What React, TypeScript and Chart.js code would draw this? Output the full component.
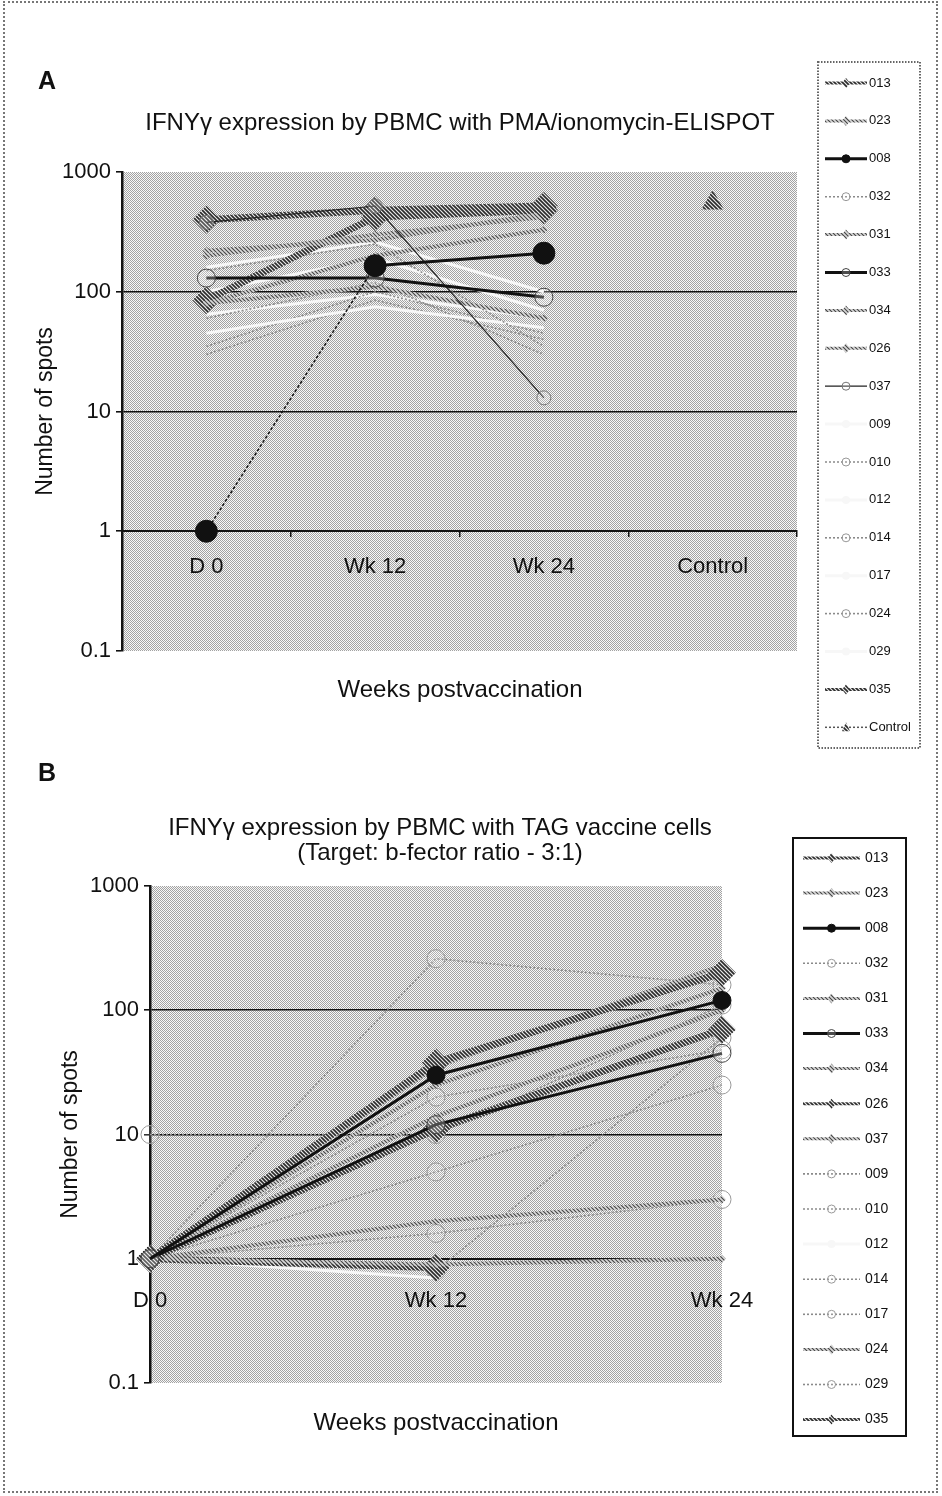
import { useEffect, useRef } from 'react';
import { Chart, registerables } from 'chart.js';
Chart.register(...registerables);

const FONT = '"Liberation Sans", Arial, Helvetica, sans-serif';

// ---------- data ----------
const A_CATEGORIES = ['D 0', 'Wk 12', 'Wk 24', 'Control'];
const B_CATEGORIES = ['D 0', 'Wk 12', 'Wk 24'];
const Y_TICKS = [0.1, 1, 10, 100, 1000];
const SERIES_NAMES = ['013', '023', '008', '032', '031', '033', '034', '026', '037', '009', '010', '012', '014', '017', '024', '029', '035'];

// Panel A (PMA/ionomycin) values: D 0, Wk 12, Wk 24, Control
const A_013 = [400, 480, 520, null];
const A_023 = [200, 300, 420, null];
const A_008 = [1, 165, 210, null];
const A_032 = [150, 250, 35, null];
const A_031 = [80, 200, 330, null];
const A_033 = [130, 130, 90, null];
const A_034 = [80, 110, 60, null];
const A_026 = [220, 270, 450, null];
const A_037 = [380, 520, 13, null];
const A_009 = [45, 75, 50, null];
const A_010 = [30, 85, 40, null];
const A_012 = [160, 260, 100, null];
const A_014 = [60, 120, 30, null];
const A_017 = [100, 190, 70, null];
const A_024 = [35, 100, 45, null];
const A_029 = [65, 95, 60, null];
const A_035 = [85, 420, 480, null];
const A_CONTROL = [null, null, null, 550];

// Panel B (TAG vaccine cells) values: D 0, Wk 12, Wk 24
const B_013 = [1, 38, 200];
const B_023 = [1, 25, 150];
const B_008 = [1, 30, 120];
const B_032 = [1, 20, 48];
const B_031 = [1, 14, 100];
const B_033 = [1, 12, 45];
const B_034 = [1, 35, 230];
const B_026 = [1, 11, 70];
const B_037 = [1, 2, 3];
const B_009 = [1, 260, 160];
const B_010 = [10, 10, 110];
const B_012 = [1, 0.7, null];
const B_014 = [1, 0.8, 60];
const B_017 = [1, 1.6, 3];
const B_024 = [1, 0.9, 1];
const B_029 = [1, 5, 25];
const B_035 = [1, 0.85, null];

const A_VALUES = [A_013, A_023, A_008, A_032, A_031, A_033, A_034, A_026, A_037, A_009, A_010, A_012, A_014, A_017, A_024, A_029, A_035];
const B_VALUES = [B_013, B_023, B_008, B_032, B_031, B_033, B_034, B_026, B_037, B_009, B_010, B_012, B_014, B_017, B_024, B_029, B_035];

// ---------- styles ----------
const A_KINDS = ['H1', 'H2', 'BLK', 'LDOT', 'H2', 'BLK2', 'H2', 'H2', 'THIN', 'WHT', 'LDOT', 'WHT', 'LDOT', 'WHT', 'LDOT', 'WHT', 'H1'];
const B_KINDS = ['H1', 'H2', 'BLK', 'LDOT', 'H2', 'BLK2', 'H2', 'H1', 'H2', 'LDOT', 'LDOT', 'WHT', 'LDOT', 'LDOT', 'H2', 'LDOT', 'H1'];

function makeStipple() {
  const c = document.createElement('canvas');
  c.width = 2; c.height = 2;
  const g = c.getContext('2d')!;
  g.fillStyle = '#f8f8f8'; g.fillRect(0, 0, 2, 2);
  g.fillStyle = '#a2a2a2'; g.fillRect(0, 0, 1, 1); g.fillRect(1, 1, 1, 1);
  return g.createPattern(c, 'repeat')!;
}

function makeHatch(dark: string, bg: string, size: number, lw: number) {
  const c = document.createElement('canvas');
  c.width = size; c.height = size;
  const g = c.getContext('2d')!;
  g.fillStyle = bg; g.fillRect(0, 0, size, size);
  g.strokeStyle = dark; g.lineWidth = lw;
  g.beginPath();
  g.moveTo(-1, -1); g.lineTo(size + 1, size + 1);
  g.moveTo(-size - 1, -1); g.lineTo(1, size + 1);
  g.moveTo(size - 1, -1); g.lineTo(2 * size + 1, size + 1);
  g.stroke();
  return g.createPattern(c, 'repeat')!;
}

function styleFor(kind: string, pats: any, panel: string) {
  const isA = panel === 'A';
  switch (kind) {
    case 'H1':
      return { borderColor: pats.hatchDark, borderWidth: 7, pointStyle: 'rectRot', pointRadius: 14, pointBackgroundColor: pats.hatchDark, pointBorderColor: 'rgba(0,0,0,0)', pointBorderWidth: 0, order: 1 };
    case 'H2':
      return { borderColor: pats.hatchMid, borderWidth: 4, pointStyle: 'rectRot', pointRadius: 4, pointBackgroundColor: pats.hatchMid, pointBorderColor: 'rgba(0,0,0,0)', pointBorderWidth: 0, order: 1 };
    case 'BLK':
      return {
        borderColor: '#111', borderWidth: 3, pointStyle: 'circle',
        pointRadius: isA ? 11 : (c: any) => (c.dataIndex === 0 ? 0 : 9),
        pointBackgroundColor: '#111', pointBorderColor: '#111', pointBorderWidth: 1, order: 0,
      };
    case 'BLK2':
      return { borderColor: '#111', borderWidth: 3, pointStyle: 'circle', pointRadius: 9, pointBackgroundColor: 'rgba(255,255,255,0.25)', pointBorderColor: '#444', pointBorderWidth: 1, order: 0 };
    case 'THIN':
      return { borderColor: '#222', borderWidth: 1.2, pointStyle: 'circle', pointRadius: 7, pointBackgroundColor: 'rgba(255,255,255,0.2)', pointBorderColor: '#777', pointBorderWidth: 1, order: 0 };
    case 'WHT':
      return { borderColor: '#f7f7f7', borderWidth: 3, pointStyle: 'circle', pointRadius: 0, pointBackgroundColor: '#f7f7f7', pointBorderColor: '#f7f7f7', pointBorderWidth: 0, order: 2 };
    default: // LDOT
      return { borderColor: '#8a8a8a', borderWidth: 1.6, borderDash: [2, 2], pointStyle: 'circle', pointRadius: isA ? 0 : 9, pointBackgroundColor: 'rgba(255,255,255,0.15)', pointBorderColor: '#999', pointBorderWidth: 1, order: 2 };
  }
}

// ---------- plugins ----------
const plotBackground = {
  id: 'plotBackground',
  beforeDraw(chart: any, _a: any, opts: any) {
    const { ctx, chartArea } = chart;
    ctx.save();
    ctx.fillStyle = opts.pattern;
    ctx.fillRect(chartArea.left, chartArea.top, chartArea.right - chartArea.left, chartArea.bottom - chartArea.top);
    ctx.restore();
  },
};

const texts = {
  id: 'texts',
  afterDraw(chart: any, _a: any, opts: any) {
    const ctx = chart.ctx;
    ctx.save();
    (opts.items || []).forEach((t: any) => {
      ctx.font = t.font;
      ctx.fillStyle = '#111';
      ctx.textAlign = t.align || 'center';
      ctx.textBaseline = 'middle';
      ctx.fillText(t.text, t.x, t.y);
    });
    ctx.restore();
  },
};

const boxLegend = {
  id: 'boxLegend',
  afterDraw(chart: any, _a: any, o: any) {
    const ctx = chart.ctx;
    ctx.save();
    ctx.fillStyle = '#fff';
    ctx.fillRect(o.x, o.y, o.w, o.h);
    ctx.lineWidth = o.borderWidth;
    ctx.strokeStyle = o.borderColor;
    ctx.setLineDash(o.borderDash || []);
    ctx.strokeRect(o.x, o.y, o.w, o.h);
    chart.data.datasets.forEach((ds: any, i: number) => {
      const y = o.firstY + i * o.step;
      ctx.setLineDash(ds.borderDash || []);
      ctx.strokeStyle = ds.borderColor;
      ctx.lineWidth = Math.min(ds.borderWidth, 3);
      ctx.beginPath();
      ctx.moveTo(o.sampleX, y);
      ctx.lineTo(o.sampleX + o.sampleW, y);
      ctx.stroke();
      ctx.setLineDash([]);
      const cx = o.sampleX + o.sampleW / 2;
      const r = 4;
      ctx.beginPath();
      if (ds.pointStyle === 'rectRot') {
        ctx.moveTo(cx, y - r - 1); ctx.lineTo(cx + r, y); ctx.lineTo(cx, y + r + 1); ctx.lineTo(cx - r, y); ctx.closePath();
      } else if (ds.pointStyle === 'triangle') {
        ctx.moveTo(cx, y - r - 1); ctx.lineTo(cx + r, y + r); ctx.lineTo(cx - r, y + r); ctx.closePath();
      } else {
        ctx.arc(cx, y, r, 0, Math.PI * 2);
      }
      ctx.fillStyle = ds.pointBackgroundColor;
      ctx.fill();
      if (ds.pointBorderWidth) { ctx.lineWidth = 1; ctx.strokeStyle = ds.pointBorderColor; ctx.stroke(); }
      ctx.fillStyle = '#111';
      ctx.font = `${o.fontSize}px ${FONT}`;
      ctx.textAlign = 'left';
      ctx.textBaseline = 'middle';
      ctx.fillText(ds.label, o.textX, y);
    });
    ctx.restore();
  },
};

function yScale(width: number) {
  return {
    type: 'logarithmic',
    min: 0.1,
    max: 1000,
    position: 'left',
    afterBuildTicks: (s: any) => { s.ticks = Y_TICKS.map((v) => ({ value: v })); },
    afterFit: (s: any) => { s.width = width; },
    ticks: {
      color: '#111',
      font: { family: FONT, size: 22 },
      padding: 5,
      callback: (v: any) => String(v),
    },
    grid: {
      color: (c: any) => (c.tick && [1, 10, 100].includes(c.tick.value) ? '#111' : 'rgba(0,0,0,0)'),
      lineWidth: 1.6,
      tickColor: '#111',
      tickLength: 6,
    },
    border: { display: true, color: '#111', width: 2.5 },
    title: { display: true, text: 'Number of spots', color: '#111', font: { family: FONT, size: 23 }, padding: { top: 4, bottom: 4 } },
  };
}

function makeConfig(panel: 'A' | 'B', pats: any) {
  const isA = panel === 'A';
  const values = isA ? A_VALUES : B_VALUES;
  const kinds = isA ? A_KINDS : B_KINDS;
  const datasets: any[] = values.map((vals, i) => {
    const st: any = styleFor(kinds[i], pats, panel);
    const ds: any = { label: SERIES_NAMES[i], data: vals, tension: 0, ...st };
    if (isA && SERIES_NAMES[i] === '008') {
      ds.segment = {
        borderWidth: (c: any) => (c.p0DataIndex === 0 ? 1.5 : undefined),
        borderDash: (c: any) => (c.p0DataIndex === 0 ? [3, 2] : undefined),
      };
    }
    return ds;
  });
  if (isA) {
    datasets.push({ label: 'Control', data: A_CONTROL, borderColor: '#555', borderWidth: 1.5, borderDash: [2, 2], pointStyle: 'triangle', pointRadius: 13, pointBackgroundColor: pats.hatchDark, pointBorderColor: 'rgba(0,0,0,0)', pointBorderWidth: 0, order: 1 });
  }

  const layoutPad = isA
    ? { left: 28, right: 145, top: 172, bottom: 109 }
    : { left: 53, right: 220, top: 126, bottom: 113 };
  const yWidth = isA ? 94 : 97;

  const textItems = isA
    ? [
        { text: 'A', x: 38, y: 82, font: `bold 25px ${FONT}`, align: 'left' },
        { text: 'IFNYγ expression by PBMC with PMA/ionomycin-ELISPOT', x: 460, y: 123, font: `24px ${FONT}` },
        { text: 'Weeks postvaccination', x: 460, y: 690, font: `24px ${FONT}` },
      ]
    : [
        { text: 'B', x: 38, y: 14, font: `bold 25px ${FONT}`, align: 'left' },
        { text: 'IFNYγ expression by PBMC with TAG vaccine cells', x: 440, y: 68, font: `24px ${FONT}` },
        { text: '(Target: b-fector ratio - 3:1)', x: 440, y: 93, font: `24px ${FONT}` },
        { text: 'Weeks postvaccination', x: 436, y: 663, font: `24px ${FONT}` },
      ];

  const legend = isA
    ? { x: 818, y: 62, w: 102, h: 686, firstY: 83, step: 37.9, sampleX: 825, sampleW: 42, textX: 869, fontSize: 13, borderWidth: 2, borderColor: '#666', borderDash: [1.5, 1.5] }
    : { x: 793, y: 78, w: 113, h: 598, firstY: 98, step: 35.1, sampleX: 803, sampleW: 57, textX: 865, fontSize: 14, borderWidth: 2, borderColor: '#111', borderDash: [] };

  return {
    type: 'line',
    data: { labels: isA ? A_CATEGORIES : B_CATEGORIES, datasets },
    plugins: [plotBackground, texts, boxLegend],
    options: {
      animation: false,
      responsive: false,
      maintainAspectRatio: false,
      layout: { padding: layoutPad },
      events: [],
      plugins: {
        legend: { display: false },
        tooltip: { enabled: false },
        plotBackground: { pattern: pats.stipple },
        texts: { items: textItems },
        boxLegend: legend,
      },
      scales: {
        x: {
          type: 'category',
          offset: isA,
          position: { y: 1 },
          grid: isA
            ? { display: true, drawOnChartArea: false, offset: true, color: '#111', tickLength: 5, lineWidth: 1.5 }
            : { display: false },
          border: { display: true, color: '#111', width: 2 },
          ticks: { color: '#111', font: { family: FONT, size: 22 }, padding: isA ? 17 : 21, maxRotation: 0, autoSkip: false },
        },
        y: yScale(yWidth),
      },
    },
  };
}

function Panel({ panel, top, height }: { panel: 'A' | 'B'; top: number; height: number }) {
  const ref = useRef<HTMLCanvasElement>(null);
  useEffect(() => {
    const pats = {
      stipple: makeStipple(),
      hatchDark: makeHatch('#2a2a2a', '#e8e8e8', 4, 1.6),
      hatchMid: makeHatch('#444', '#d8d8d8', 4, 1.1),
    };
    const chart = new Chart(ref.current!, makeConfig(panel, pats) as any);
    return () => chart.destroy();
  }, [panel]);
  return (
    <canvas
      ref={ref}
      width={942}
      height={height}
      style={{ position: 'absolute', left: 0, top, width: 942, height }}
    />
  );
}

export default function App() {
  return (
    <div style={{ position: 'absolute', left: 0, top: 0, width: 942, height: 1496, background: '#fff', overflow: 'hidden' }}>
      <Panel panel="A" top={0} height={760} />
      <Panel panel="B" top={760} height={736} />
      <div
        style={{
          position: 'absolute', left: 3, top: 1, width: 935, height: 1492,
          border: '2px dotted #777', boxSizing: 'border-box', pointerEvents: 'none',
        }}
      />
    </div>
  );
}
